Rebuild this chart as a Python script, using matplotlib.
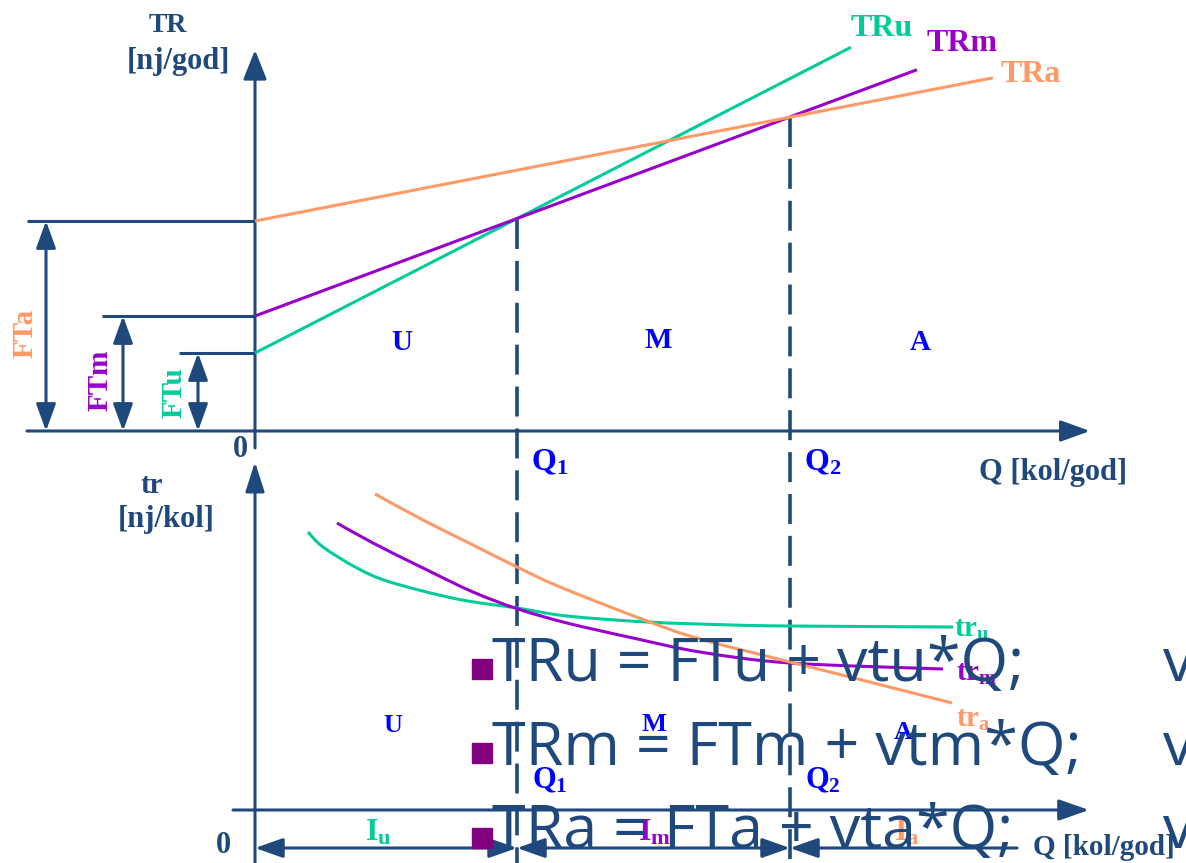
import matplotlib
matplotlib.use("Agg")
import matplotlib.pyplot as plt
from matplotlib.path import Path
from matplotlib.patches import PathPatch

NAVY = "#1F497D"
BLUE = "#0000FF"
GREEN = "#00CC99"
PURPLE = "#9900CC"
ORANGE = "#FF9966"
BULLET = "#800080"

plt.rcParams["mathtext.fontset"] = "custom"
plt.rcParams["mathtext.rm"] = "Liberation Serif:bold"
plt.rcParams["mathtext.it"] = "Liberation Serif:bold"
plt.rcParams["mathtext.bf"] = "Liberation Serif:bold"
plt.rcParams["mathtext.default"] = "rm"

# ---------------- data ----------------
types = ["u", "m", "a"]
colors = [GREEN, PURPLE, ORANGE]
FT = [78, 115, 210]              # fixed part of TR (intercepts)
vt = [0.513, 0.372, 0.194]       # variable cost per unit
Q_end = [596, 662, 738]          # where each TR line ends
Q_marks = [262, 535]             # Q1, Q2
Q_mark_labels = ["$Q_1$", "$Q_2$"]
zone_labels = ["U", "M", "A"]
TR_labels = ["TRu", "TRm", "TRa"]
FT_labels = ["FTu", "FTm", "FTa"]

tr_u_Q = [53, 68, 102, 135, 202, 262, 312, 392, 478, 535, 698]
tr_u_v = [278, 263, 242, 228, 211, 202, 194, 188, 185, 184, 183]
tr_m_Q = [82, 118, 168, 218, 263, 312, 378, 445, 535, 688]
tr_m_v = [287, 267, 242, 218, 201, 187, 172, 158, 147, 141]
tr_a_Q = [120, 168, 218, 262, 305, 392, 445, 535, 595, 697]
tr_a_v = [316, 290, 265, 243, 223, 189, 171, 148, 133, 107]
tr_curves_Q = [tr_u_Q, tr_m_Q, tr_a_Q]
tr_curves_v = [tr_u_v, tr_m_v, tr_a_v]
tr_labels = ["$tr_u$", "$tr_m$", "$tr_a$"]

interval_edges = [0, 262, 535, 762]
interval_labels = ["$I_u$", "$I_m$", "$I_a$"]

formulas = ["TRu = FTu + vtu*Q;", "TRm = FTm + vtm*Q;", "TRa = FTa + vta*Q;"]

# ---------------- figure ----------------
W, H = 1186, 863
fig = plt.figure(figsize=(W / 100, H / 100), dpi=100)
fig.patch.set_facecolor("white")

top = fig.add_axes([0, 0, 1, 1])
top.set_xlim(-255, W - 255)
top.set_ylim(431 - H, 431)
top.axis("off")

bot = fig.add_axes([0, 0, 1, 1])
bot.set_xlim(-255, W - 255)
bot.set_ylim(810 - H, 810)
bot.axis("off")
bot.patch.set_alpha(0)

AX_LW = 2.2


def arrow(ax, p0, p1, hl, hw, style="-|>", color=NAVY, lw=AX_LW, z=3):
    ax.annotate("", xy=p1, xytext=p0, xycoords="data", textcoords="data",
                arrowprops=dict(arrowstyle=f"{style},head_length={hl},head_width={hw}",
                                mutation_scale=1, lw=lw, color=color,
                                shrinkA=0, shrinkB=0),
                zorder=z, annotation_clip=False)


def lbl(ax, x, y, s, color, size, ha="center", va="center", rot=0):
    ax.text(x, y, s, color=color, fontsize=size, family="Liberation Serif",
            weight="bold", ha=ha, va=va, rotation=rot, zorder=6)


def smooth_curve(ax, xs, ys, color, lw):
    """Draw a smooth curve through the given points (Catmull-Rom as Bezier)."""
    pts = list(zip(xs, ys))
    verts = [pts[0]]
    codes = [Path.MOVETO]
    n = len(pts)
    for i in range(n - 1):
        p0 = pts[i - 1] if i > 0 else pts[i]
        p1 = pts[i]
        p2 = pts[i + 1]
        p3 = pts[i + 2] if i + 2 < n else pts[i + 1]
        c1 = (p1[0] + (p2[0] - p0[0]) / 6, p1[1] + (p2[1] - p0[1]) / 6)
        c2 = (p2[0] - (p3[0] - p1[0]) / 6, p2[1] - (p3[1] - p1[1]) / 6)
        verts += [c1, c2, p2]
        codes += [Path.CURVE4] * 3
    ax.add_patch(PathPatch(Path(verts, codes), facecolor="none", edgecolor=color,
                           lw=lw, zorder=4, capstyle="butt"))


# ---- top panel: TR ----
arrow(top, (0, -17), (0, 381), 18, 7.2)
arrow(top, (-228, 0), (835, 0), 18, 6.5)

FT_line_left = [-76, -153, -228]
FT_arrow_x = [-57, -132, -209]
FT_label_pos = [(-81, 38), (-155, 51), (-230, 98)]
for i in range(3):
    top.plot([FT_line_left[i], 0], [FT[i], FT[i]], color=NAVY, lw=AX_LW,
             solid_capstyle="butt", zorder=3)
    arrow(top, (FT_arrow_x[i], 0), (FT_arrow_x[i], FT[i]), 16.5, 6, style="<|-|>")
    lbl(top, FT_label_pos[i][0], FT_label_pos[i][1], FT_labels[i], colors[i], 21, rot=90)

for i in range(3):
    top.plot([0, Q_end[i]], [FT[i], FT[i] + vt[i] * Q_end[i]], color=colors[i],
             lw=2.2, solid_capstyle="butt", zorder=4)

for q in Q_marks:
    top.plot([q, q], [FT[1] + vt[1] * q, 431 - H], color=NAVY, lw=2.6,
             linestyle=(0, (8.3, 3.3)), zorder=3)

TR_label_pos = [(627, 402), (707, 387), (776, 357)]
for i in range(3):
    lbl(top, TR_label_pos[i][0], TR_label_pos[i][1], TR_labels[i], colors[i], 23)

lbl(top, -87, 405, "TR", NAVY, 20)
lbl(top, -77, 369, "[nj/god]", NAVY, 22)
lbl(top, -15, -18, "0", NAVY, 22)
for q, s in zip(Q_marks, Q_mark_labels):
    lbl(top, q + 33, -32, s, BLUE, 23)
lbl(top, 798, -41, "Q [kol/god]", NAVY, 22)
for x, y, s in zip([147, 403, 665], [88, 91, 88], zone_labels):
    lbl(top, x, y, s, BLUE, 21)

# ---- bottom panel: tr ----
arrow(bot, (0, 810 - H), (0, 348), 18, 5.8)
arrow(bot, (-22, 0), (834, 0), 18.5, 6.5)

for i in range(3):
    style = "<|-|>" if i < 2 else "<|-"
    arrow(bot, (interval_edges[i], -38), (interval_edges[i + 1], -38), 17, 6,
          style=style)

for i in range(3):
    smooth_curve(bot, tr_curves_Q[i], tr_curves_v[i], colors[i], 2.2)

tr_label_pos = [(699, 181), (701, 137), (701, 91)]
for i in range(3):
    lbl(bot, tr_label_pos[i][0], tr_label_pos[i][1], tr_labels[i], colors[i], 21, ha="left")

lbl(bot, -103, 325, "tr", NAVY, 21)
lbl(bot, -89, 291, "[nj/kol]", NAVY, 22)
lbl(bot, -32, -35, "0", NAVY, 22)
for x, y, s in zip([138, 399, 648], [85, 86, 78], zone_labels):
    lbl(bot, x, y, s, BLUE, 19)
for q, s in zip(Q_marks, Q_mark_labels):
    lbl(bot, q + 33, 29, s, BLUE, 22)
lbl(bot, 778, -37, "Q [kol/god]", NAVY, 21, ha="left")
for x, s, c in zip([123, 400, 652], interval_labels, colors):
    lbl(bot, x, -23, s, c, 23)

# ---- overlaid bullet formulas ----
baselines = [681, 765, 848]
bot.plot([227, 227, 227], [810 - 669, 810 - 753, 810 - 838], linestyle="none",
         marker="s", ms=14.4, color=BULLET, zorder=7)
for f, yb in zip(formulas, baselines):
    fig.text(492 / W, 1 - yb / H, f, fontsize=44, family="Open Sans",
             color=NAVY, ha="left", va="baseline", zorder=10)
    fig.text(1163 / W, 1 - yb / H, "v", fontsize=44, family="Open Sans",
             color=NAVY, ha="left", va="baseline", zorder=10)

fig.savefig("out.png", dpi=100, facecolor="white")
